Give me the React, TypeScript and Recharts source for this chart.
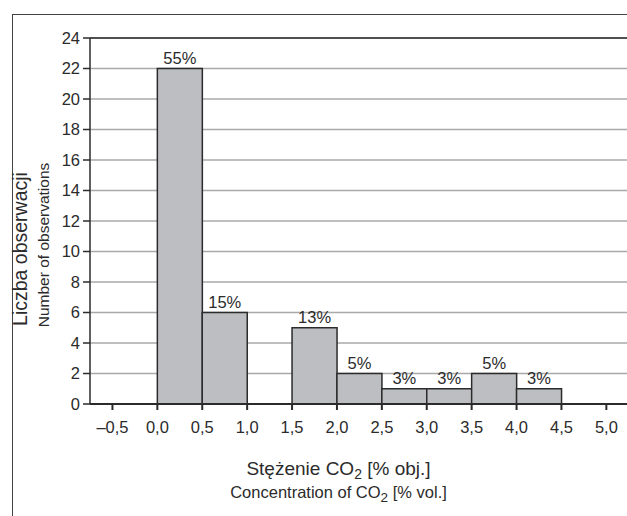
import React, { useEffect } from "react";
import { Bar, BarChart, CartesianGrid, LabelList, Label, ReferenceLine, XAxis, YAxis } from "recharts";

// histogram bins: start of each 0.5 wide bin, % vol CO2
const binStarts = [0.0, 0.5, 1.0, 1.5, 2.0, 2.5, 3.0, 3.5, 4.0];
const binWidth = 0.5;
const counts = [22, 6, 0, 5, 2, 1, 1, 2, 1];
const shares = ["55%", "15%", "", "13%", "5%", "3%", "3%", "5%", "3%"];

const xTicks = [-0.5, 0, 0.5, 1, 1.5, 2, 2.5, 3, 3.5, 4, 4.5, 5];
const yTicks = [0, 2, 4, 6, 8, 10, 12, 14, 16, 18, 20, 22, 24];

const FONT = "'Liberation Sans', Arial, sans-serif";
const INK = "#2b2b2b";

const data = binStarts.map((start, i) => ({
  mid: start + binWidth / 2,
  count: counts[i] === 0 ? null : counts[i],
  share: shares[i]
}));

function formatTick(value: number) {
  return value.toFixed(1).replace(".", ",").replace("-", "\u2013");
}

function XTitle(props: any) {
  const vb = props.viewBox || { x: 0, y: 0, width: 0, height: 0 };
  const cx = vb.x + vb.width / 2 - 20;
  const top = vb.y + vb.height;
  return (
    <g fill={INK} fontFamily={FONT} textAnchor="middle">
      <text x={cx} y={top + 41} fontSize={19}>
        Stężenie CO<tspan fontSize={14} dy={4}>2</tspan>
        <tspan dy={-4}> [% obj.]</tspan>
      </text>
      <text x={cx} y={top + 64} fontSize={16.5}>
        Concentration of CO<tspan fontSize={13.5} dy={4}>2</tspan>
        <tspan dy={-4}> [% vol.]</tspan>
      </text>
    </g>
  );
}

function YTitle(props: any) {
  const vb = props.viewBox || { x: 0, y: 0, width: 0, height: 0 };
  const mid = vb.y + vb.height / 2;
  const cy1 = mid + 28;
  const cy2 = mid + 24;
  return (
    <g fill={INK} fontFamily={FONT} textAnchor="middle">
      <text x={27} y={cy1} fontSize={19.5} transform={`rotate(-90 27 ${cy1})`}>
        Liczba obserwacji
      </text>
      <text x={49} y={cy2} fontSize={15.5} transform={`rotate(-90 49 ${cy2})`}>
        Number of observations
      </text>
    </g>
  );
}

export default function App() {
  useEffect(() => {
    document.documentElement.style.overflow = "hidden";
    document.body.style.overflow = "hidden";
  }, []);

  return (
    <div style={{ position: "fixed", left: 0, top: 0, width: 627, height: 516, overflow: "hidden", background: "#fff" }}>
      <div
        style={{
          position: "absolute",
          left: 12,
          top: 14,
          width: 640,
          height: 520,
          borderTop: "1.5px solid #444",
          borderLeft: "1.5px solid #444"
        }}
      />
      <div style={{ position: "absolute", left: 0, top: 0 }}>
        <BarChart
          width={627}
          height={516}
          data={data}
          barCategoryGap={0}
          margin={{ top: 38, right: 0, bottom: 82, left: 50 }}
        >
          <CartesianGrid vertical={false} stroke="#a9a9a9" strokeWidth={1.5} />
          <XAxis
            dataKey="mid"
            type="number"
            domain={[-0.75, 5.23]}
            allowDataOverflow
            ticks={xTicks}
            interval={0}
            tickFormatter={formatTick}
            tickSize={6}
            tickMargin={11}
            height={30}
            stroke={INK}
            strokeWidth={2}
            tick={{ fill: INK, fontSize: 16.5, fontFamily: FONT }}
          >
            <Label content={XTitle} />
          </XAxis>
          <YAxis
            domain={[0, 24]}
            ticks={yTicks}
            interval={0}
            tickSize={7}
            tickMargin={3}
            width={40}
            stroke={INK}
            strokeWidth={1.5}
            tick={{ fill: INK, fontSize: 16.5, fontFamily: FONT }}
          >
            <Label content={YTitle} />
          </YAxis>
          <ReferenceLine y={24} stroke={INK} strokeWidth={1.5} />
          <Bar dataKey="count" fill="#bdbec1" stroke={INK} strokeWidth={1.5} isAnimationActive={false}>
            <LabelList dataKey="share" position="top" offset={5} fill={INK} fontSize={16.5} fontFamily={FONT} />
          </Bar>
        </BarChart>
      </div>
    </div>
  );
}
